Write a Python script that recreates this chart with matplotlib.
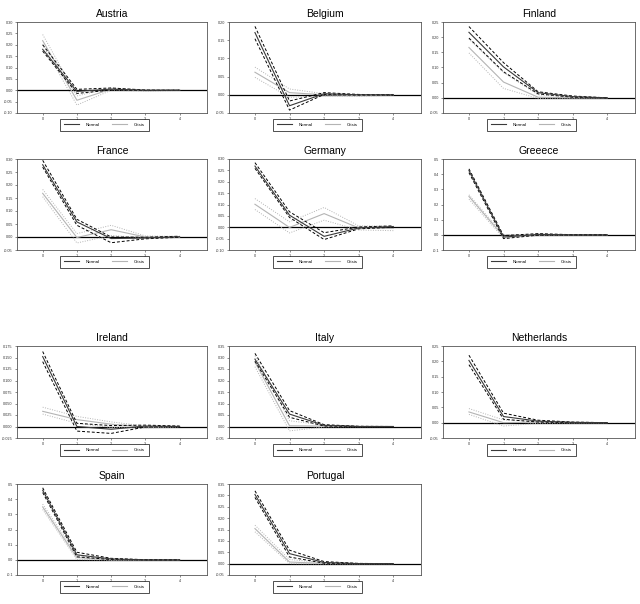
import numpy as np
import matplotlib
matplotlib.use("Agg")
import matplotlib.pyplot as plt

plt.rcParams["font.family"] = ["Liberation Sans", "DejaVu Sans"]

countries = ["Austria", "Belgium", "Finland", "France", "Germany", "Greeece",
             "Ireland", "Italy", "Netherlands", "Spain", "Portugal"]
horizon = [0, 1, 2, 3, 4]

# impulse responses, normal regime (centre and bands)
normal = {
    "Austria":     [0.180, -0.005, 0.005, 0.000, 0.000],
    "Belgium":     [0.171, -0.030, 0.003, 0.000, 0.000],
    "Finland":     [0.216, 0.102, 0.017, 0.004, 0.000],
    "France":      [0.278, 0.058, -0.006, -0.004, 0.001],
    "Germany":     [0.269, 0.053, -0.040, -0.003, 0.003],
    "Greeece":     [0.424, -0.015, 0.003, 0.000, 0.000],
    "Ireland":     [0.152, 0.000, -0.006, 0.001, 0.000],
    "Italy":       [0.293, 0.054, 0.005, 0.000, 0.000],
    "Netherlands": [0.203, 0.020, 0.005, 0.001, 0.000],
    "Spain":       [0.459, 0.033, 0.006, 0.000, 0.000],
    "Portugal":    [0.304, 0.044, 0.005, 0.000, 0.000],
}
normal_lo = {
    "Austria":     [0.172, -0.014, 0.001, -0.001, 0.000],
    "Belgium":     [0.154, -0.042, 0.001, -0.001, 0.000],
    "Finland":     [0.197, 0.086, 0.013, 0.002, 0.000],
    "France":      [0.269, 0.045, -0.022, -0.007, -0.001],
    "Germany":     [0.259, 0.043, -0.054, -0.007, 0.000],
    "Greeece":     [0.410, -0.025, -0.002, 0.000, 0.000],
    "Ireland":     [0.141, -0.010, -0.015, -0.001, 0.000],
    "Italy":       [0.284, 0.040, 0.002, 0.000, 0.000],
    "Netherlands": [0.189, 0.011, 0.002, 0.000, 0.000],
    "Spain":       [0.444, 0.020, 0.002, 0.000, 0.000],
    "Portugal":    [0.291, 0.029, 0.002, 0.000, 0.000],
}
normal_hi = {
    "Austria":     [0.200, 0.004, 0.010, 0.001, 0.000],
    "Belgium":     [0.188, -0.017, 0.006, 0.001, 0.000],
    "Finland":     [0.235, 0.116, 0.020, 0.006, 0.000],
    "France":      [0.295, 0.068, 0.000, -0.001, 0.003],
    "Germany":     [0.284, 0.068, -0.024, 0.001, 0.006],
    "Greeece":     [0.435, -0.005, 0.008, 0.001, 0.000],
    "Ireland":     [0.163, 0.007, 0.002, 0.003, 0.001],
    "Italy":       [0.318, 0.069, 0.008, 0.001, 0.000],
    "Netherlands": [0.220, 0.031, 0.008, 0.002, 0.000],
    "Spain":       [0.475, 0.050, 0.010, 0.001, 0.000],
    "Portugal":    [0.320, 0.059, 0.009, 0.001, 0.000],
}

# impulse responses, crisis regime (centre and bands)
crisis = {
    "Austria":     [0.218, -0.044, 0.005, -0.002, 0.000],
    "Belgium":     [0.062, 0.006, 0.000, -0.002, 0.000],
    "Finland":     [0.166, 0.052, 0.002, 0.000, 0.000],
    "France":      [0.168, -0.002, 0.028, 0.000, 0.000],
    "Germany":     [0.101, -0.001, 0.060, -0.003, -0.005],
    "Greeece":     [0.253, -0.011, 0.000, 0.000, 0.000],
    "Ireland":     [0.033, 0.015, 0.005, -0.001, 0.000],
    "Italy":       [0.280, 0.003, 0.002, 0.000, 0.000],
    "Netherlands": [0.035, 0.000, 0.002, 0.000, 0.000],
    "Spain":       [0.349, 0.015, 0.000, 0.000, 0.000],
    "Portugal":    [0.154, 0.007, 0.001, 0.000, 0.000],
}
crisis_lo = {
    "Austria":     [0.200, -0.065, 0.000, -0.004, -0.001],
    "Belgium":     [0.048, -0.007, -0.003, -0.004, -0.001],
    "Finland":     [0.148, 0.031, -0.002, -0.001, 0.000],
    "France":      [0.155, -0.023, 0.006, -0.004, -0.002],
    "Germany":     [0.078, -0.025, 0.031, -0.012, -0.015],
    "Greeece":     [0.235, -0.022, -0.004, -0.001, 0.000],
    "Ireland":     [0.027, 0.007, -0.002, -0.003, -0.001],
    "Italy":       [0.260, -0.019, -0.002, -0.001, 0.000],
    "Netherlands": [0.027, -0.011, -0.002, -0.001, 0.000],
    "Spain":       [0.332, 0.002, -0.003, -0.001, 0.000],
    "Portugal":    [0.140, 0.000, -0.002, -0.001, 0.000],
}
crisis_hi = {
    "Austria":     [0.245, -0.025, 0.010, 0.001, 0.001],
    "Belgium":     [0.076, 0.016, 0.003, 0.000, 0.001],
    "Finland":     [0.194, 0.083, 0.010, 0.002, 0.000],
    "France":      [0.183, 0.013, 0.045, 0.004, 0.002],
    "Germany":     [0.126, 0.024, 0.087, 0.006, 0.005],
    "Greeece":     [0.264, 0.000, 0.004, 0.001, 0.000],
    "Ireland":     [0.042, 0.022, 0.010, 0.001, 0.001],
    "Italy":       [0.308, 0.025, 0.006, 0.001, 0.000],
    "Netherlands": [0.046, 0.009, 0.005, 0.001, 0.000],
    "Spain":       [0.367, 0.030, 0.004, 0.001, 0.000],
    "Portugal":    [0.169, 0.018, 0.004, 0.001, 0.000],
}

# y axis scale per panel: (bottom, top, step)
y_scale = {
    "Austria": (-0.10, 0.30, 0.05),
    "Belgium": (-0.05, 0.20, 0.05),
    "Finland": (-0.05, 0.25, 0.05),
    "France": (-0.05, 0.30, 0.05),
    "Germany": (-0.10, 0.30, 0.05),
    "Greeece": (-0.1, 0.5, 0.1),
    "Ireland": (-0.025, 0.175, 0.025),
    "Italy": (-0.05, 0.35, 0.05),
    "Netherlands": (-0.05, 0.25, 0.05),
    "Spain": (-0.1, 0.5, 0.1),
    "Portugal": (-0.05, 0.35, 0.05),
}
tick_fmt = {"Greeece": "%.1f", "Spain": "%.1f", "Ireland": "%.3f"}

W, H = 640, 604
fig = plt.figure(figsize=(6.4, 6.04), dpi=100)

# panel boxes in pixels (left, top, right, bottom)
cols = [(17, 207), (229, 421), (443, 635)]
rows = [(22, 113), (159, 250), (346, 438), (484, 575)]

dark = "#3a3a3a"
light = "#b4b4b4"

for i, c in enumerate(countries):
    r, k = divmod(i, 3)
    x0, x1 = cols[k]
    y0, y1 = rows[r]
    ax = fig.add_axes([x0 / W, 1 - y1 / H, (x1 - x0) / W, (y1 - y0) / H])

    ax.axhline(0, color="black", lw=0.9, zorder=1)
    ax.plot(horizon, crisis_lo[c], color=light, lw=0.7, ls=(0, (1, 1.5)))
    ax.plot(horizon, crisis_hi[c], color=light, lw=0.7, ls=(0, (1, 1.5)))
    ax.plot(horizon, crisis[c], color=light, lw=0.8, label="Crisis")
    ax.plot(horizon, normal_lo[c], color="black", lw=0.7, ls=(0, (3, 2)))
    ax.plot(horizon, normal_hi[c], color="black", lw=0.7, ls=(0, (3, 2)))
    ax.plot(horizon, normal[c], color=dark, lw=0.8, label="Normal")

    lo, hi, step = y_scale[c]
    ax.set_ylim(lo, hi)
    ticks = np.arange(lo, hi + step / 2, step)
    ax.set_yticks(ticks)
    fmt = tick_fmt.get(c, "%.2f")
    ax.set_yticklabels([fmt % t for t in ticks])
    ax.set_xlim(-0.75, 4.8)
    ax.set_xticks(horizon)
    ax.tick_params(labelsize=2.7, length=1.5, width=0.4, pad=1.5, colors="#333333")
    for s in ax.spines.values():
        s.set_linewidth(0.6)
        s.set_color("#555555")
    ax.set_title(c, fontsize=7.5, pad=3.5)

    h, l = ax.get_legend_handles_labels()
    order = [l.index("Normal"), l.index("Crisis")]
    leg = ax.legend([h[j] for j in order], [l[j] for j in order],
                    loc="upper center", bbox_to_anchor=(0.46, -0.065), ncol=2,
                    fontsize=3.2, frameon=True, fancybox=False, edgecolor="black",
                    handlelength=3.4, columnspacing=2.6, handletextpad=1.6,
                    borderpad=0.9, borderaxespad=0)
    leg.get_frame().set_linewidth(0.6)

fig.savefig("out.png", dpi=100, facecolor="white")
